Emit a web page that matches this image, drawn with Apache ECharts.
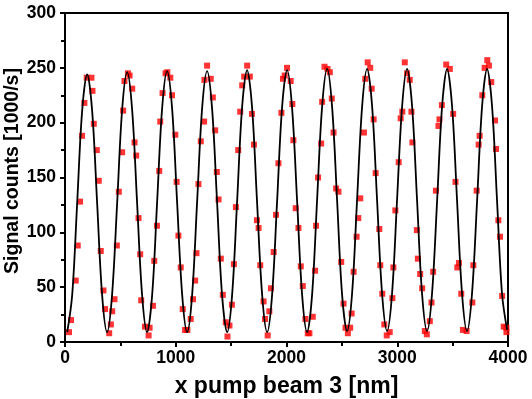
<!DOCTYPE html>
<html>
<head>
<meta charset="utf-8">
<script src="https://cdn.jsdelivr.net/npm/echarts@6/dist/echarts.min.js"></script>
<style>html,body{margin:0;padding:0;background:#fff;}#c{width:532px;height:399px;}</style>
</head>
<body>
<div id="c"></div>
<script>
var xTicks = [0, 1000, 2000, 3000, 4000];
var yTicks = [0, 50, 100, 150, 200, 250, 300];

var dataX = [36,54,97,115,136,154,175,196,239,248,260,287,305,323,347,362,399,414,426,447,468,486,516,525,537,568,583,607,628,643,664,679,688,722,755,764,794,806,830,851,860,881,908,924,951,966,996,1008,1024,1045,1063,1084,1105,1135,1156,1175,1187,1205,1226,1256,1259,1283,1316,1335,1356,1371,1386,1407,1425,1452,1467,1485,1507,1525,1543,1564,1582,1600,1618,1645,1669,1688,1706,1733,1748,1763,1793,1806,1830,1845,1860,1884,1905,1927,1954,1968,1984,2005,2038,2053,2062,2083,2108,2129,2147,2171,2192,2207,2237,2258,2267,2285,2313,2322,2343,2370,2391,2409,2425,2448,2469,2494,2515,2533,2554,2575,2588,2606,2633,2648,2666,2699,2711,2733,2756,2769,2787,2805,2838,2847,2865,2883,2905,2932,2956,2965,2983,3013,3031,3046,3068,3089,3113,3128,3137,3177,3186,3207,3225,3249,3267,3294,3309,3324,3349,3372,3381,3403,3442,3475,3505,3526,3542,3557,3578,3593,3626,3678,3687,3717,3735,3744,3768,3789,3813,3828,3849,3883,3892,3913,3928,3947,3961,3986,4001,3986];
var dataY = [9,20,56,88,128,188,218,241,241,229,199,175,147,83,47,30,8,16,28,39,88,137,173,211,238,245,243,231,182,170,113,80,38,14,6,13,33,74,106,156,201,227,245,246,241,225,189,146,97,68,30,11,11,21,39,56,81,144,183,201,239,252,240,223,193,155,130,76,43,18,5,15,34,71,123,175,210,234,242,252,242,208,180,111,104,70,37,21,6,28,49,82,116,163,209,240,243,250,238,217,184,122,104,69,51,21,8,8,23,65,106,150,181,219,251,249,246,222,191,140,137,73,35,13,8,13,26,64,96,113,131,191,240,255,250,231,203,154,103,70,44,16,6,9,40,68,120,164,204,210,255,245,239,210,182,102,76,62,49,10,7,19,36,64,138,197,203,216,253,249,208,146,68,72,44,11,10,36,70,138,180,188,225,250,257,252,237,202,176,111,96,42,14,13,13,9];

var fitX = [20,65,110,155,200,245,290,335,
  380,425,471,516,561,606,651,696,
  741,787,832,877,922,967,1012,1058,
  1103,1148,1193,1238,1283,1328,1373,1418,
  1464,1509,1554,1599,1644,1689,1734,1780,
  1825,1870,1915,1960,2005,2050,2096,2141,
  2186,2231,2276,2321,2367,2412,2457,2502,
  2547,2592,2637,2683,2728,2773,2818,2863,
  2908,2953,2998,3044,3089,3134,3179,3224,
  3269,3314,3360,3405,3450,3495,3540,3585,
  3630,3675,3721,3766,3811,3856,3901,3946,
  3992];
var fitY = [9,43,127,211,244,211,127,43,
  9,43,127,212,246,212,127,43,
  9,43,128,213,247,213,128,43,
  9,43,128,213,247,213,128,43,
  9,43,128,214,248,214,128,43,
  9,43,128,214,248,214,128,43,
  9,43,129,214,249,214,129,43,
  10,44,129,215,249,215,129,44,
  10,44,129,215,249,215,129,44,
  10,44,129,215,249,215,129,44,
  10,44,129,215,249,215,129,44,
  11];

var scatterData = dataX.map(function (x, i) { return [x, dataY[i]]; });
var fitData = fitX.map(function (x, i) { return [x, fitY[i]]; });

var FONT = 'Liberation Sans, Arial, sans-serif';
var chart = echarts.init(document.getElementById('c'), null, {renderer: 'canvas'});
chart.setOption({
  animation: false,
  backgroundColor: '#ffffff',
  grid: {left: 65, right: 24, top: 13, bottom: 57, containLabel: false, outerBoundsMode: 'none',
    show: true, borderColor: '#000', borderWidth: 2, backgroundColor: 'transparent'},
  xAxis: {
    type: 'value', min: 0, max: 4000, interval: 1000,
    name: 'x pump beam 3 [nm]', nameLocation: 'middle', nameGap: 33, nameMoveOverlap: false,
    nameTextStyle: {fontFamily: FONT, fontWeight: 'bold', fontSize: 23, color: '#000'},
    axisLine: {show: true, onZero: false, lineStyle: {color: '#000', width: 2}},
    axisTick: {show: true, inside: false, length: 5, lineStyle: {color: '#000', width: 2}},
    minorTick: {show: true, splitNumber: 2, length: 4, lineStyle: {color: '#000', width: 2}},
    axisLabel: {margin: 7, fontFamily: FONT, fontWeight: 'bold', fontSize: 17.5, color: '#000',
      formatter: function (v) { return xTicks.indexOf(v) >= 0 ? String(v) : ''; }},
    splitLine: {show: false}
  },
  yAxis: {
    type: 'value', min: 0, max: 300, interval: 50,
    name: 'Signal counts [1000/s]', nameLocation: 'middle', nameGap: 42, nameRotate: 90, nameMoveOverlap: false,
    nameTextStyle: {fontFamily: FONT, fontWeight: 'bold', fontSize: 19.5, color: '#000', padding: [0, 0, 0, 13]},
    axisLine: {show: true, onZero: false, lineStyle: {color: '#000', width: 2}},
    axisTick: {show: true, inside: false, length: 5, lineStyle: {color: '#000', width: 2}},
    minorTick: {show: true, splitNumber: 2, length: 4, lineStyle: {color: '#000', width: 2}},
    axisLabel: {margin: 9, fontFamily: FONT, fontWeight: 'bold', fontSize: 17.5, color: '#000',
      formatter: function (v) { return yTicks.indexOf(v) >= 0 ? String(v) : ''; }},
    splitLine: {show: false}
  },
  series: [
    {
      type: 'scatter', data: scatterData, symbol: 'rect', symbolSize: 6,
      itemStyle: {color: '#ff0000'}, z: 2
    },
    {
      type: 'line', data: fitData, smooth: 0.35, showSymbol: false, symbol: 'none',
      lineStyle: {color: '#000', width: 1.8}, z: 3
    }
  ]
});
</script>
</body>
</html>
